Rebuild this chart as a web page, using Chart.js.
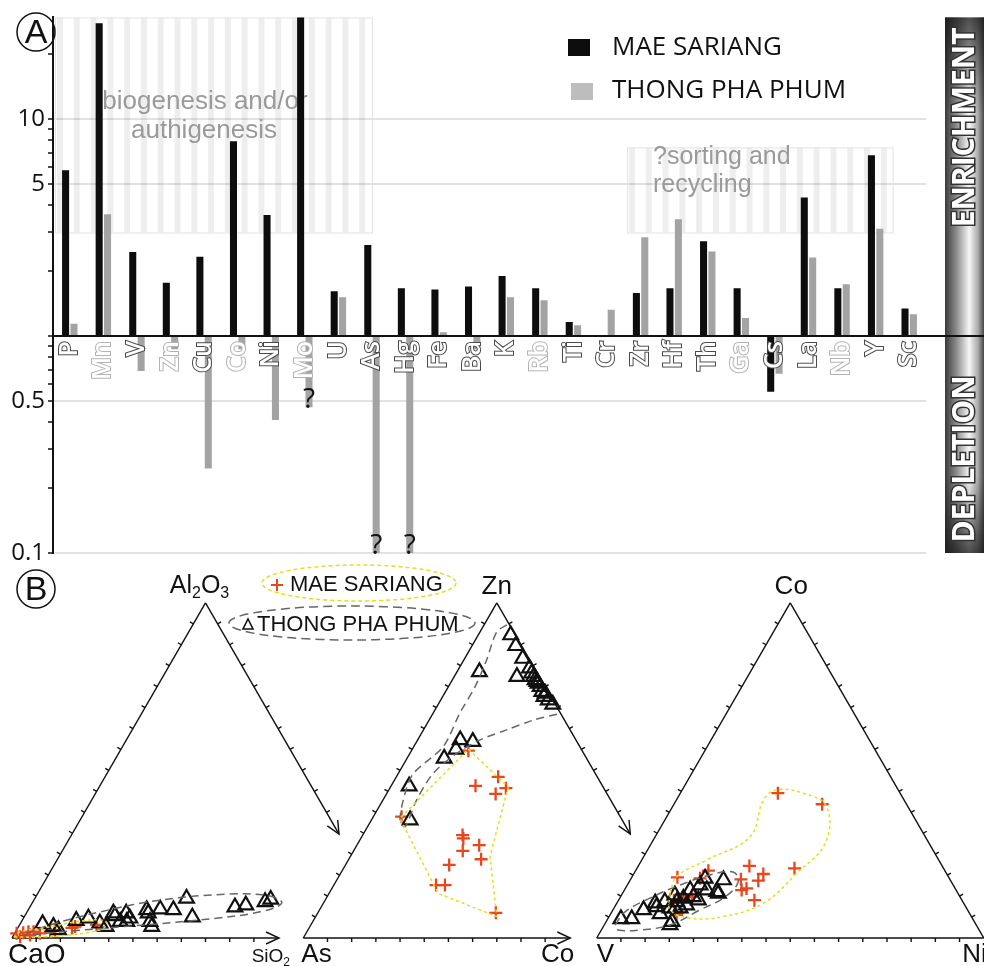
<!DOCTYPE html>
<html lang="en">
<head>
  <meta charset="UTF-8">
  <title>Enrichment / depletion and ternary plots</title>
  <script src="https://cdn.jsdelivr.net/npm/chart.js"></script>
  <style>
    body { margin: 0; background: #fff; }
    #wrap { position: relative; width: 984px; height: 966px; overflow: hidden; }
    #chartA { position: absolute; left: 0; top: 0; }
    #chartB { position: absolute; left: 0; top: 560px; }
  </style>
</head>
<body>
<div id="wrap">
  <canvas id="chartA" width="984" height="575"></canvas>
  <canvas id="chartB" width="984" height="406"></canvas>
</div>
<script>
  // ---- Panel A: enrichment factors (log scale, bars from 1) ----
  const elements = ['P','Mn','V','Zn','Cu','Co','Ni','Mo','U','As','Hg','Fe','Ba','K','Rb','Ti','Cr','Zr','Hf','Th','Ga','Cs','La','Nb','Y','Sc'];
  const maeSariang = [5.8, 27.6, 2.44, 1.76, 2.32, 7.9, 3.61, 40, 1.61, 2.63, 1.66, 1.64, 1.69, 1.89, 1.66, 1.16, null, 1.58, 1.66, 2.73, 1.66, 0.553, 4.35, 1.66, 6.81, 1.34];
  const thongPhaPhum = [1.14, 3.64, 0.69, 0.87, 0.245, 0.87, 0.41, 0.47, 1.51, 0.1, 0.1, 1.04, 0.87, 1.51, 1.46, 1.12, 1.32, 2.85, 3.45, 2.45, 1.21, 0.67, 2.30, 1.73, 3.12, 1.26];
  const lightLabels = ['Mn','Zn','Co','Mo','Rb','Ga','Nb'];
  const uncertain = ['Mo','As','Hg'];   // '?' at the end of these THONG PHA PHUM bars
  const yTickValues = [0.1,0.2,0.3,0.4,0.5,0.6,0.7,0.8,0.9,1,2,3,4,5,6,7,8,9,10,20];
  const yLabelled = [10, 5, 0.5, 0.1];

  // ---- Panel B: ternary diagrams, points as [right apex %, top apex %] ----
  // 1: CaO - SiO2 - Al2O3   [SiO2, Al2O3]
  const t1Thong = [[5.8,4.2],[9.0,3.4],[10.8,2.4],[14.0,5.2],[16.8,5.9],[20.5,4.4],[22.6,3.4],[22.5,7.4],[23.3,6.6],[25.5,4.9],[25.8,7.4],[27.2,4.9],[27.5,5.9],[30.6,8.4],[31.5,7.4],[33.2,4.9],[34.4,3.4],[34.0,8.6],[37.5,8.4],[39.2,11.8],[43.5,6.2],[53.0,9.2],[55.5,9.8],[60.0,10.8],[61.1,11.5]];
  const t1Mae = [[0.5,1.4],[2.1,1.6],[3.3,1.9],[4.6,1.9],[1.9,0.4],[4.2,0.9],[6.5,1.4],[8.9,1.9],[9.9,2.4],[14.0,3.0],[14.6,3.4],[19.9,3.9]];
  const t1MaeEnv = [[0.4,0.3],[7.1,0.3],[14.5,0.9],[21.5,2.4],[22.5,4.2],[20.1,5.4],[13.9,4.8],[8.2,3.3],[1.2,1.8],[0.4,0.3]];
  const t1ThongEnv = [[1.8,0.6],[11.5,1.8],[26.3,3.3],[45.9,5.4],[60.2,7.8],[64.5,10.4],[60.4,12.5],[49.8,13.1],[32.6,11.3],[18.9,7.8],[7.9,3.9],[1.8,0.6]];
  // 2: As - Co - Zn   [Co, Zn]
  const t2Thong = [[8.4,90.4],[11.3,87.2],[15.0,83.4],[16.2,78.0],[18.2,80.5],[19.5,79.0],[20.5,78.0],[21.4,77.0],[22.1,76.5],[22.7,76.0],[23.7,75.0],[24.9,73.5],[26.0,73.0],[26.2,72.0],[27.8,71.0],[29.6,69.7],[5.8,79.4],[11.0,59.1],[14.5,58.6],[11.3,56.3],[9.6,53.6],[4.7,45.3],[10.0,35.2]];
  const t2Mae = [[14.7,55.9],[26.3,48.1],[30.0,44.7],[21.8,45.4],[28.2,43.0],[7.3,36.2],[25.8,30.7],[26.5,29.7],[28.2,26.0],[31.6,27.7],[34.2,23.5],[26.8,21.8],[26.4,15.8],[28.7,15.8],[46.0,7.5]];
  const t2MaeEnv = [[14.5,56.3],[30.4,45.1],[36.1,24.3],[46.8,6.4],[28.2,13.3],[7.1,35.7],[14.5,56.3]];
  const t2ThongEnv = [[5.9,93.4],[4.3,91.4],[5.9,82.9],[6.9,75.0],[6.9,67.1],[7.6,57.1],[3.9,49.1],[4.7,43.2],[7.4,35.2],[9.7,33.2],[8.7,41.2],[9.0,49.1],[12.1,55.1],[16.1,59.1],[21.5,62.1],[26.9,65.0],[32.8,67.0]];
  // 3: V - Ni - Co   [Ni, Co]
  const t3Thong = [[3.4,5.7],[6.2,5.7],[7.9,8.4],[9.9,10.4],[10.8,9.3],[12.8,7.2],[12.2,10.8],[14.5,8.9],[15.8,8.9],[17.0,4.9],[17.0,3.9],[13.8,12.8],[15.3,10.8],[17.1,8.9],[16.5,11.8],[18.3,9.8],[17.0,14.3],[18.8,12.3],[20.6,11.3],[18.8,15.8],[21.3,14.3],[19.1,17.8],[24.1,13.8],[24.8,13.3],[24.1,17.3]];
  const t3Mae = [[25.2,43.2],[38.3,39.9],[28.7,21.5],[40.7,20.8],[33.5,19.1],[33.2,17.1],[28.5,17.5],[31.3,14.8],[30.3,14.3],[35.1,11.3],[18.8,20.1],[11.8,18.1],[17.8,17.8],[18.4,12.3],[16.3,12.1],[14.3,11.3],[17.2,6.9]];
  const t3MaeEnv = [[12.3,13.3],[11.5,18.3],[16.8,23.3],[24.5,30.2],[22.5,41.2],[24.4,44.2],[31.8,43.2],[39.8,39.2],[44.9,28.3],[42.0,19.3],[37.9,10.4],[29.5,6.4],[21.2,5.9],[14.8,8.4],[12.3,13.3]];
  const t3ThongEnv = [[2.8,3.9],[3.4,7.8],[7.8,11.9],[13.6,15.8],[19.9,18.8],[25.4,19.7],[28.2,16.7],[27.0,12.2],[22.5,8.4],[17.0,3.9],[10.0,2.4],[4.3,2.4],[2.8,3.9]];

  const triOffset = [0, 0.7527, 1.5109];  // left vertex of each triangle, in side lengths
  const axisReach = 0.69;                  // open triangles: arrows stop here
  const H = Math.sqrt(3) / 2;
  const red = '#e8461e';
  const yellow = '#e3df1c';

  // ---------- panel A helpers ----------
  function stripedBox(ctx, left, top, right, bottom, step) {
    ctx.save();
    ctx.fillStyle = 'rgba(0,0,0,0.065)';
    for (let sx = left + 2; sx < right - 2; sx += step) {
      ctx.fillRect(sx, top, Math.min(6, right - sx), bottom - top);
    }
    ctx.strokeStyle = '#e3e3e3';
    ctx.lineWidth = 1;
    ctx.strokeRect(left + 0.5, top + 0.5, right - left, bottom - top);
    ctx.restore();
  }

  function tube(ctx, x0, x1, y0, y1, label, darkTop) {
    const g = ctx.createLinearGradient(x0, 0, x1, 0);
    g.addColorStop(0, '#3a3a3a');
    g.addColorStop(0.3, '#8e8e8e');
    g.addColorStop(0.62, '#f6f6f6');
    g.addColorStop(0.85, '#a9a9a9');
    g.addColorStop(1, '#454545');
    ctx.fillStyle = g;
    ctx.fillRect(x0, y0, x1 - x0, y1 - y0);
    const v = ctx.createLinearGradient(0, y0, 0, y1);
    if (darkTop) {
      v.addColorStop(0, 'rgba(20,20,20,0.75)');
      v.addColorStop(0.3, 'rgba(20,20,20,0)');
      v.addColorStop(1, 'rgba(20,20,20,0)');
    } else {
      v.addColorStop(0, 'rgba(20,20,20,0)');
      v.addColorStop(0.65, 'rgba(20,20,20,0)');
      v.addColorStop(1, 'rgba(20,20,20,0.75)');
    }
    ctx.fillStyle = v;
    ctx.fillRect(x0, y0, x1 - x0, y1 - y0);
    ctx.save();
    ctx.translate((x0 + x1) / 2 + 1, darkTop ? y0 + 110 : y0 + 123);
    ctx.rotate(-Math.PI / 2);
    ctx.font = 'bold 30px "Open Sans"';
    ctx.textAlign = 'center';
    ctx.textBaseline = 'middle';
    ctx.lineWidth = 3;
    ctx.strokeStyle = '#333';
    ctx.strokeText(label, 0, 0);
    ctx.fillStyle = '#fff';
    ctx.fillText(label, 0, 0);
    ctx.restore();
  }

  function circledLetter(ctx, letter, cx, cy) {
    ctx.save();
    ctx.beginPath();
    ctx.arc(cx, cy, 19, 0, Math.PI * 2);
    ctx.lineWidth = 1.5;
    ctx.strokeStyle = '#111';
    ctx.stroke();
    ctx.fillStyle = '#111';
    ctx.font = '34px "Liberation Sans", Arial';
    ctx.textAlign = 'center';
    ctx.textBaseline = 'middle';
    ctx.fillText(letter, cx, cy + 2);
    ctx.restore();
  }

  const panelA = {
    id: 'panelA',
    beforeDatasetsDraw(chart) {
      const { ctx, chartArea, scales: { x, y } } = chart;
      const step = (x.getPixelForValue(1) - x.getPixelForValue(0)) / 2;
      stripedBox(ctx, chartArea.left + 2, chartArea.top, x.getPixelForValue(9), y.getPixelForValue(3), step);
      stripedBox(ctx, x.getPixelForValue(16) + 20, y.getPixelForValue(7.4), x.getPixelForValue(24) + 17, y.getPixelForValue(3), step);

      ctx.save();
      ctx.fillStyle = '#9a9a9a';
      ctx.font = '26px "Liberation Sans", Arial';
      ctx.textBaseline = 'middle';
      ctx.textAlign = 'center';
      ctx.fillText('biogenesis and/or', 205, 102);
      ctx.fillText('authigenesis', 204, 131);
      ctx.font = '25px "Liberation Sans", Arial';
      ctx.textAlign = 'left';
      ctx.fillText('?sorting and', 653, 157);
      ctx.fillText('recycling', 653, 185);
      ctx.restore();
    },
    afterDraw(chart) {
      const { ctx, chartArea, scales: { x, y } } = chart;
      const base = y.getPixelForValue(1);

      tube(ctx, 945, 984, chartArea.top, base, 'ENRICHMENT', true);
      tube(ctx, 945, 984, base, chartArea.bottom, 'DEPLETION', false);

      // baseline at 1, across to the page edge
      ctx.save();
      ctx.strokeStyle = '#111';
      ctx.lineWidth = 2;
      ctx.beginPath();
      ctx.moveTo(chartArea.left - 1, base);
      ctx.lineTo(984, base);
      ctx.stroke();

      // question marks at the end of uncertain bars
      const meta = chart.getDatasetMeta(1);
      ctx.fillStyle = '#111';
      ctx.font = '28px "Open Sans"';
      ctx.textAlign = 'center';
      ctx.textBaseline = 'alphabetic';
      uncertain.forEach(el => {
        const i = elements.indexOf(el);
        const endY = Math.min(y.getPixelForValue(thongPhaPhum[i]), chartArea.bottom);
        ctx.fillText('?', meta.data[i].x, endY + 1);
      });

      // legend
      ctx.fillStyle = chart.data.datasets[0].backgroundColor;
      ctx.fillRect(568, 39, 22, 17);
      ctx.fillStyle = '#bdbdbd';
      ctx.fillRect(571, 83, 22, 17);
      ctx.fillStyle = '#111';
      ctx.font = '26px "Open Sans"';
      ctx.textAlign = 'left';
      ctx.textBaseline = 'middle';
      ctx.fillText(chart.data.datasets[0].label, 612, 48);
      ctx.fillText(chart.data.datasets[1].label, 612, 91);
      ctx.restore();

      circledLetter(ctx, 'A', 36, 32);
    }
  };

  new Chart(document.getElementById('chartA'), {
    type: 'bar',
    data: {
      labels: elements,
      datasets: [
        { label: 'MAE SARIANG', data: maeSariang.map(v => v === null ? null : [1, v]), backgroundColor: '#0d0d0d' },
        { label: 'THONG PHA PHUM', data: thongPhaPhum.map(v => v === null ? null : [1, v]), backgroundColor: '#a3a3a3' }
      ]
    },
    options: {
      responsive: false,
      animation: false,
      events: [],
      layout: { padding: { top: 15, right: 58, bottom: 22, left: 0 } },
      datasets: { bar: { categoryPercentage: 0.5, barPercentage: 0.84 } },
      plugins: { legend: { display: false }, tooltip: { enabled: false } },
      scales: {
        x: {
          position: { y: 1 },
          grid: { display: false, drawTicks: false },
          border: { display: false },
          ticks: {
            z: 1,
            autoSkip: false,
            minRotation: 90,
            maxRotation: 90,
            padding: 5,
            font: { family: 'Open Sans', size: 25, weight: '600' },
            color: '#ffffff',
            textStrokeColor: c => lightLabels.includes(elements[c.index]) ? '#b3b3b3' : '#4a4a4a',
            textStrokeWidth: 2
          }
        },
        y: {
          type: 'logarithmic',
          min: 0.1,
          max: 29.4,
          afterFit: s => { s.width = 53; },
          afterBuildTicks: s => { s.ticks = yTickValues.map(v => ({ value: v })); },
          border: { color: '#111', width: 2 },
          grid: {
            color: c => (c.tick && yLabelled.includes(c.tick.value)) ? '#e2e2e2' : 'rgba(0,0,0,0)',
            lineWidth: 2,
            tickColor: '#111',
            tickLength: 5,
            tickWidth: 1.5
          },
          ticks: {
            autoSkip: false,
            padding: 3,
            color: '#111',
            font: { family: 'Open Sans', size: 24 },
            callback: v => yLabelled.includes(v) ? String(v) : ''
          }
        }
      }
    },
    plugins: [panelA]
  });

  // ---------- panel B ----------
  function toXY(points, tri) {
    return points.map(([b, a]) => ({ x: triOffset[tri] + b / 100 + a / 200, y: a / 100 * H }));
  }
  function maeSet(points, tri) {
    return { data: toXY(points, tri), pointStyle: 'cross', pointRadius: 6.5, borderColor: red, borderWidth: 2.3, order: 2 };
  }
  function thongSet(points, tri) {
    return { data: toXY(points, tri), pointStyle: 'triangle', pointRadius: 8.5, borderColor: '#111', backgroundColor: 'rgba(0,0,0,0)', borderWidth: 2.2, order: 1 };
  }
  function envSet(points, tri, colour, dash, tension) {
    return { data: toXY(points, tri), showLine: true, pointRadius: 0, borderColor: colour, borderWidth: 1.5, borderDash: dash, tension: tension, order: 0 };
  }

  function side(ctx, p, q, t, arrow, c) {
    const ex = p.x + (q.x - p.x) * t, ey = p.y + (q.y - p.y) * t;
    ctx.beginPath();
    ctx.moveTo(p.x, p.y);
    ctx.lineTo(ex, ey);
    ctx.stroke();
    const len = Math.hypot(q.x - p.x, q.y - p.y);
    const dx = (q.x - p.x) / len, dy = (q.y - p.y) / len;
    let nx = -dy, ny = dx;
    if (((p.x + q.x) / 2 - c.x) * nx + ((p.y + q.y) / 2 - c.y) * ny < 0) { nx = -nx; ny = -ny; }
    ctx.beginPath();
    for (let k = 1; k < 16; k++) {
      const f = k / 16;
      if (f > t - 0.02) break;
      const tx = p.x + (q.x - p.x) * f, ty = p.y + (q.y - p.y) * f;
      ctx.moveTo(tx, ty);
      ctx.lineTo(tx + nx * 4, ty + ny * 4);
    }
    ctx.stroke();
    if (arrow) {
      ctx.beginPath();
      ctx.moveTo(ex - dx * 13 + nx * 6, ey - dy * 13 + ny * 6);
      ctx.lineTo(ex, ey);
      ctx.lineTo(ex - dx * 13 - nx * 6, ey - dy * 13 - ny * 6);
      ctx.stroke();
    }
  }

  // text with subscripts: parts = [[text, isSub], ...]
  function chem(ctx, parts, x, y, size, align) {
    const big = size + 'px "Liberation Sans", Arial';
    const small = Math.round(size * 0.62) + 'px "Liberation Sans", Arial';
    let w = 0;
    parts.forEach(([s, sub]) => { ctx.font = sub ? small : big; w += ctx.measureText(s).width; });
    let cx = align === 'center' ? x - w / 2 : align === 'right' ? x - w : x;
    ctx.textAlign = 'left';
    ctx.textBaseline = 'alphabetic';
    parts.forEach(([s, sub]) => {
      ctx.font = sub ? small : big;
      ctx.fillText(s, cx, sub ? y + size * 0.22 : y);
      cx += ctx.measureText(s).width;
    });
  }

  const frameB = {
    id: 'frameB',
    beforeDatasetsDraw(chart) {
      const { ctx, scales: { x, y } } = chart;
      const pt = (u, v) => ({ x: x.getPixelForValue(u), y: y.getPixelForValue(v) });
      ctx.save();
      ctx.strokeStyle = '#111';
      ctx.lineWidth = 1.4;
      triOffset.forEach((o, i) => {
        const L = pt(o, 0), R = pt(o + 1, 0), A = pt(o + 0.5, H);
        const C = { x: (L.x + R.x + A.x) / 3, y: (L.y + R.y + A.y) / 3 };
        const open = i !== 2;
        side(ctx, L, A, 1, false, C);
        side(ctx, A, R, open ? axisReach : 1, open, C);
        side(ctx, L, R, open ? axisReach : 1, open, C);
      });
      ctx.restore();
    },
    afterDraw(chart) {
      const { ctx, scales: { x, y } } = chart;
      const pt = (u, v) => ({ x: x.getPixelForValue(u), y: y.getPixelForValue(v) });
      const V = triOffset.map(o => ({ L: pt(o, 0), R: pt(o + 1, 0), A: pt(o + 0.5, H), E: pt(o + axisReach, 0) }));
      ctx.save();
      ctx.fillStyle = '#111';
      chem(ctx, [['Al', 0], ['2', 1], ['O', 0], ['3', 1]], V[0].A.x - 6, V[0].A.y - 10, 25, 'center');
      chem(ctx, [['CaO', 0]], V[0].L.x - 4, V[0].L.y + 25, 28, 'left');
      chem(ctx, [['SiO', 0], ['2', 1]], V[0].E.x + 11, V[0].L.y + 24, 19, 'right');
      chem(ctx, [['Zn', 0]], V[1].A.x, V[1].A.y - 9, 26, 'center');
      chem(ctx, [['As', 0]], V[1].L.x - 2, V[1].L.y + 24, 26, 'left');
      chem(ctx, [['Co', 0]], V[1].E.x + 4, V[1].L.y + 24, 26, 'right');
      chem(ctx, [['Co', 0]], V[2].A.x + 1, V[2].A.y - 9, 26, 'center');
      chem(ctx, [['V', 0]], V[2].L.x, V[2].L.y + 24, 26, 'left');
      chem(ctx, [['Ni', 0]], V[2].R.x + 3, V[2].L.y + 24, 26, 'right');

      // legend ellipses
      ctx.lineWidth = 1.5;
      ctx.setLineDash([4, 3]);
      ctx.strokeStyle = yellow;
      ctx.beginPath();
      ctx.ellipse(359, 23, 97, 18, 0, 0, Math.PI * 2);
      ctx.stroke();
      ctx.setLineDash([9, 5]);
      ctx.strokeStyle = '#666';
      ctx.beginPath();
      ctx.ellipse(352, 63, 123, 17, 0, 0, Math.PI * 2);
      ctx.stroke();
      ctx.setLineDash([]);
      ctx.strokeStyle = red;
      ctx.lineWidth = 2;
      ctx.beginPath();
      ctx.moveTo(271, 25); ctx.lineTo(283, 25);
      ctx.moveTo(277, 19); ctx.lineTo(277, 31);
      ctx.stroke();
      ctx.strokeStyle = '#111';
      ctx.lineWidth = 1.6;
      ctx.beginPath();
      ctx.moveTo(248, 59); ctx.lineTo(253, 69); ctx.lineTo(243, 69); ctx.closePath();
      ctx.stroke();
      ctx.fillStyle = '#111';
      ctx.font = '22px "Liberation Sans", Arial';
      ctx.textAlign = 'left';
      ctx.textBaseline = 'middle';
      ctx.fillText('MAE SARIANG', 290, 25);
      ctx.fillText('THONG PHA PHUM', 257, 65);
      ctx.restore();

      circledLetter(ctx, 'B', 36, 29);
    }
  };

  new Chart(document.getElementById('chartB'), {
    type: 'scatter',
    data: {
      datasets: [
        envSet(t1MaeEnv, 0, yellow, [3, 3], 0.4),
        envSet(t1ThongEnv, 0, '#666', [8, 5], 0.4),
        envSet(t2MaeEnv, 1, yellow, [3, 3], 0),
        envSet(t2ThongEnv, 1, '#666', [8, 5], 0.3),
        envSet(t3MaeEnv, 2, yellow, [3, 3], 0.4),
        envSet(t3ThongEnv, 2, '#666', [8, 5], 0.4),
        thongSet(t1Thong, 0), thongSet(t2Thong, 1), thongSet(t3Thong, 2),
        maeSet(t1Mae, 0), maeSet(t2Mae, 1), maeSet(t3Mae, 2)
      ]
    },
    options: {
      responsive: false,
      animation: false,
      events: [],
      layout: { padding: 0, autoPadding: false },
      plugins: { legend: { display: false }, tooltip: { enabled: false } },
      scales: {
        x: { type: 'linear', display: false, min: -12 / 387, max: 972 / 387 },
        y: { type: 'linear', display: false, min: -28 / 387, max: 378 / 387 }
      }
    },
    plugins: [frameB]
  });
</script>
</body>
</html>
